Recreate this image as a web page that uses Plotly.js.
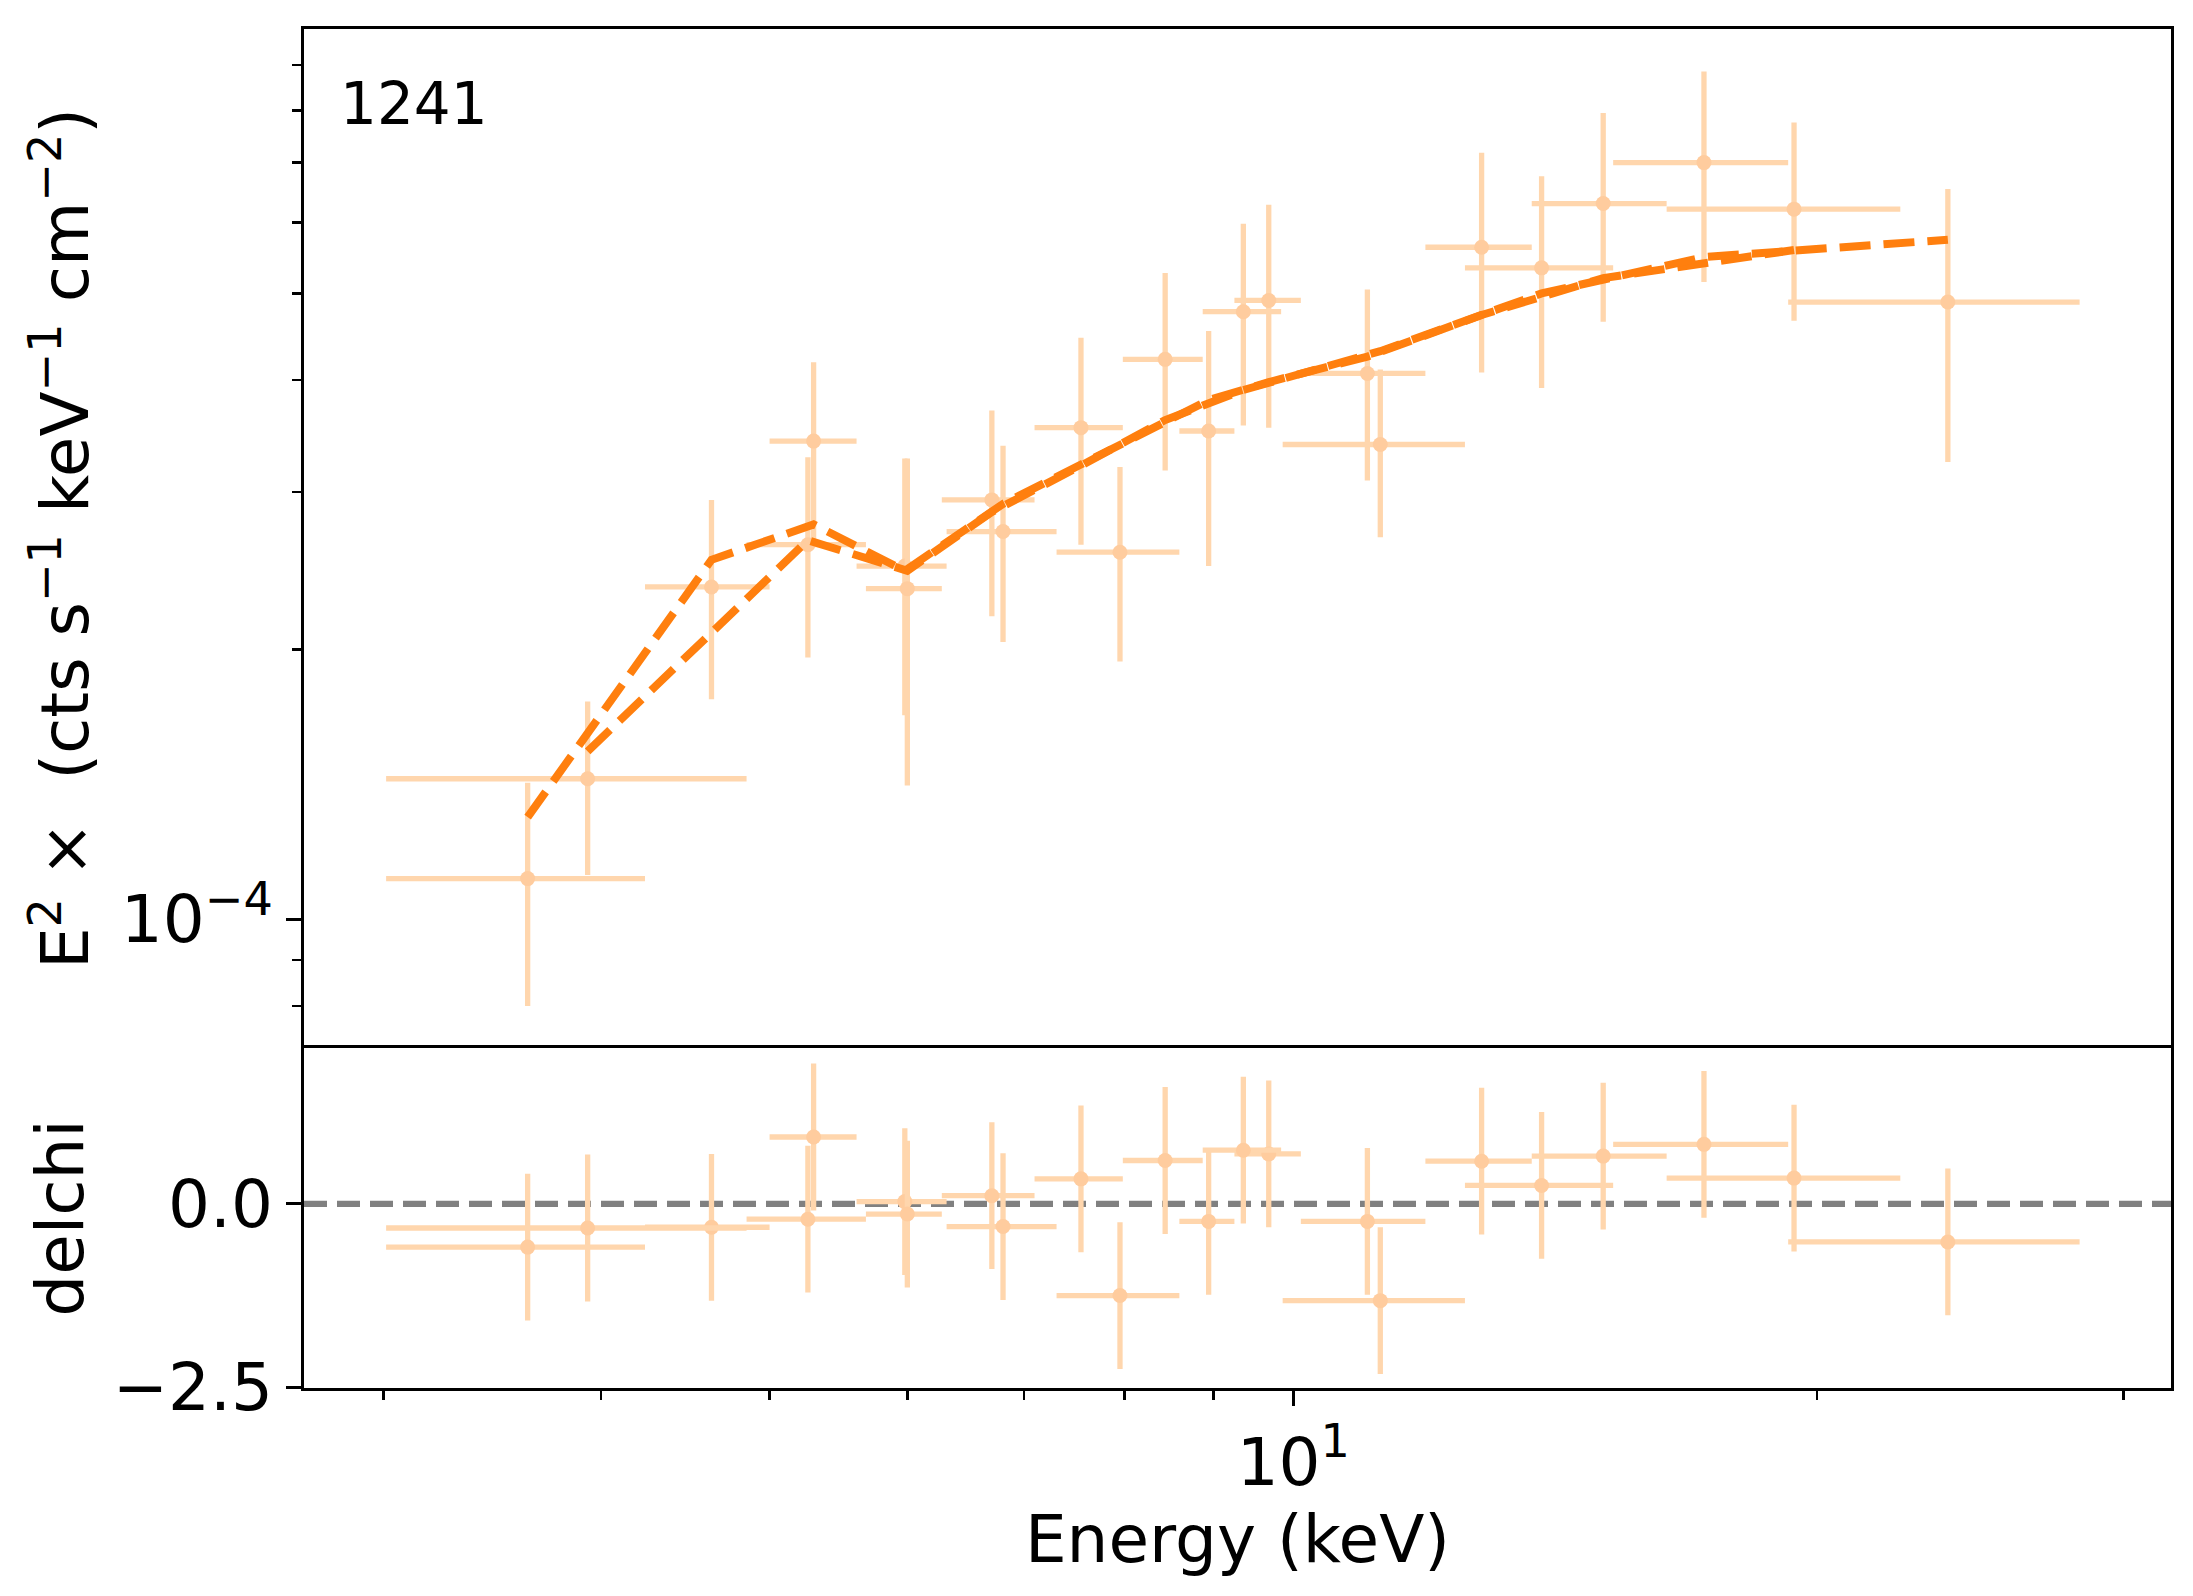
<!DOCTYPE html>
<html>
<head>
<meta charset="utf-8">
<script src="https://cdn.plot.ly/plotly-3.0.1.min.js"></script>
<style>
  html, body { margin: 0; padding: 0; background: #fff; }
  #plot-container { width: 2193px; height: 1596px; }
</style>
</head>
<body>
<div id="plot-container"></div>
<script>
// spectrum 1 (bin centres and edges in keV, E^2 flux, model, residuals)
const energy1 = [3.63, 4.63, 5.30, 5.98, 6.81, 7.95, 8.94, 9.68, 11.03, 12.83, 15.07, 19.40];
const energy1Lo = [3.01, 4.24, 5.00, 5.61, 6.32, 7.31, 8.60, 9.25, 10.10, 11.91, 13.71, 16.39];
const energy1Hi = [4.24, 5.00, 5.61, 6.32, 7.31, 8.60, 9.25, 10.10, 11.91, 13.71, 16.39, 22.33];
const flux1 = [1.11e-4, 2.35e-4, 3.42e-4, 2.48e-4, 2.71e-4, 2.57e-4, 3.51e-4, 4.91e-4, 4.07e-4, 5.63e-4, 6.30e-4, 6.21e-4];
const flux1Err = [0.31e-4, 0.59e-4, 0.77e-4, 0.79e-4, 0.67e-4, 0.63e-4, 1.03e-4, 1.37e-4, 0.98e-4, 1.55e-4, 1.65e-4, 1.55e-4];
const model1 = [1.30e-4, 2.52e-4, 2.76e-4, 2.45e-4, 2.91e-4, 3.39e-4, 3.80e-4, 3.98e-4, 4.25e-4, 4.73e-4, 5.20e-4, 5.59e-4];
const delchi1 = [-0.59, -0.32, 0.91, 0.03, -0.31, -1.25, -0.24, 0.68, -0.24, 0.58, 0.65, 0.35];

// spectrum 2
const energy2 = [3.93, 5.26, 6.00, 6.71, 7.55, 8.44, 9.36, 11.22, 13.89, 17.22, 23.78];
const energy2Lo = [3.01, 4.85, 5.68, 6.28, 7.10, 7.98, 8.87, 9.86, 12.55, 15.27, 19.25];
const energy2Hi = [4.85, 5.68, 6.28, 7.10, 7.98, 8.87, 9.84, 12.55, 15.27, 19.25, 28.31];
const flux2 = [1.435e-4, 2.62e-4, 2.34e-4, 2.94e-4, 3.54e-4, 4.22e-4, 4.77e-4, 3.39e-4, 5.34e-4, 7.00e-4, 4.89e-4];
const flux2Err = [0.315e-4, 0.66e-4, 0.93e-4, 0.76e-4, 0.92e-4, 1.05e-4, 1.21e-4, 0.72e-4, 1.42e-4, 1.85e-4, 1.65e-4];
const model2 = [1.54e-4, 2.65e-4, 2.45e-4, 2.85e-4, 3.21e-4, 3.61e-4, 3.90e-4, 4.31e-4, 5.00e-4, 5.49e-4, 5.74e-4];
const delchi2 = [-0.33, -0.21, -0.14, 0.11, 0.34, 0.59, 0.73, -1.32, 0.25, 0.81, -0.52];

// ticks
const xMajorTicks = [10];
const xMajorLabels = ["10<sup>1</sup>"];
const xMinorTicks = [3, 4, 5, 6, 7, 8, 9, 20, 30];
const fluxMajorTicks = [1e-4];
const fluxMajorLabels = ["10<sup>\u22124</sup>"];
const fluxMinorTicks = [8e-5, 9e-5, 2e-4, 3e-4, 4e-4, 5e-4, 6e-4, 7e-4, 8e-4, 9e-4];
const delchiTicks = [0, -2.5];
const delchiLabels = ["0.0", "\u22122.5"];
const sourceLabel = "1241";

document.addEventListener("DOMContentLoaded", function () {
  const dataColor = "rgb(255, 214, 173)";
  const markerColor = "rgb(255, 204, 158)";
  const modelColor = "#ff7f0e";
  const font = { family: "DejaVu Sans", size: 66, color: "#000" };

  function binErrors(centres, lo, hi) {
    return {
      plus: centres.map((c, i) => hi[i] - c),
      minus: centres.map((c, i) => c - lo[i]),
    };
  }

  function dataTrace(x, y, lo, hi, err, yaxis) {
    const xe = binErrors(x, lo, hi);
    return {
      x: x,
      y: y,
      xaxis: yaxis === "y2" ? "x2" : "x",
      yaxis: yaxis,
      type: "scatter",
      mode: "markers",
      marker: { color: markerColor, size: 15 },
      error_x: {
        type: "data",
        symmetric: false,
        array: xe.plus,
        arrayminus: xe.minus,
        color: dataColor,
        thickness: 5.3,
        width: 0,
      },
      error_y: Array.isArray(err)
        ? { type: "data", array: err, color: dataColor, thickness: 5.3, width: 0 }
        : { type: "constant", value: err, color: dataColor, thickness: 5.3, width: 0 },
      showlegend: false,
      hoverinfo: "x+y",
    };
  }

  function modelTrace(x, y) {
    return {
      x: x,
      y: y,
      xaxis: "x2",
      yaxis: "y2",
      type: "scatter",
      mode: "lines",
      line: { color: modelColor, width: 8, dash: "31px,13px" },
      showlegend: false,
    };
  }

  const traces = [
    dataTrace(energy1, flux1, energy1Lo, energy1Hi, flux1Err, "y2"),
    dataTrace(energy2, flux2, energy2Lo, energy2Hi, flux2Err, "y2"),
    modelTrace(energy1, model1),
    modelTrace(energy2, model2),
    dataTrace(energy1, delchi1, energy1Lo, energy1Hi, 1, "y"),
    dataTrace(energy2, delchi2, energy2Lo, energy2Hi, 1, "y"),
  ];

  const xRange = [Math.log10(2.70), Math.log10(31.95)];
  const frame = {
    showline: true,
    linecolor: "#000",
    linewidth: 3.3,
    mirror: true,
    showgrid: false,
    zeroline: false,
  };

  const layout = {
    width: 2193,
    height: 1596,
    margin: { l: 304, r: 22, t: 29, b: 208 },
    paper_bgcolor: "#fff",
    plot_bgcolor: "#fff",
    font: font,
    xaxis: Object.assign({}, frame, {
      type: "log",
      range: xRange,
      anchor: "y",
      tickvals: xMajorTicks,
      ticktext: xMajorLabels,
      ticks: "outside",
      ticklen: 14.6,
      tickwidth: 3.3,
      tickcolor: "#000",
      minor: { tickvals: xMinorTicks, ticks: "outside", ticklen: 8.3, tickwidth: 2.5, tickcolor: "#000" },
      tickfont: font,
      title: { text: "Energy (keV)", font: font, standoff: 2 },
    }),
    // top panel: only its upper edge, the shared edge comes from the lower panel
    xaxis2: Object.assign({}, frame, {
      type: "log",
      range: xRange,
      anchor: "y2",
      side: "top",
      mirror: false,
      matches: "x",
      ticks: "",
      showticklabels: false,
    }),
    yaxis: Object.assign({}, frame, {
      domain: [0, 0.2502],
      range: [-2.51, 2.123],
      anchor: "x",
      tickvals: delchiTicks,
      ticktext: delchiLabels,
      ticks: "outside",
      ticklen: 14.6,
      tickwidth: 3.3,
      tickcolor: "#000",
      tickfont: font,
      title: { text: "delchi", font: font, standoff: 8 },
    }),
    yaxis2: Object.assign({}, frame, {
      type: "log",
      domain: [0.2502, 1],
      range: [Math.log10(7.18e-5), Math.log10(9.87e-4)],
      anchor: "x2",
      tickvals: fluxMajorTicks,
      ticktext: fluxMajorLabels,
      ticks: "outside",
      ticklen: 14.6,
      tickwidth: 3.3,
      tickcolor: "#000",
      minor: { tickvals: fluxMinorTicks, ticks: "outside", ticklen: 8.3, tickwidth: 2.5, tickcolor: "#000" },
      tickfont: font,
      title: {
        text: "E<sup>2</sup> \u00d7  (cts s<sup>\u22121</sup> keV<sup>\u22121</sup> cm<sup>\u22122</sup>)",
        font: font,
        standoff: 11,
      },
    }),
    shapes: [
      {
        type: "line",
        xref: "x domain",
        yref: "y",
        x0: 0,
        x1: 1,
        y0: 0,
        y1: 0,
        line: { color: "#808080", width: 6.2, dash: "23px,10px" },
        layer: "below",
      },
    ],
    annotations: [
      {
        text: sourceLabel,
        xref: "x2 domain",
        yref: "y2 domain",
        x: 0.018,
        y: 0.962,
        xanchor: "left",
        yanchor: "top",
        showarrow: false,
        font: { family: "DejaVu Sans", size: 58, color: "#000" },
      },
    ],
  };

  Plotly.newPlot("plot-container", traces, layout, { displayModeBar: false, staticPlot: true });
});
</script>
</body>
</html>
